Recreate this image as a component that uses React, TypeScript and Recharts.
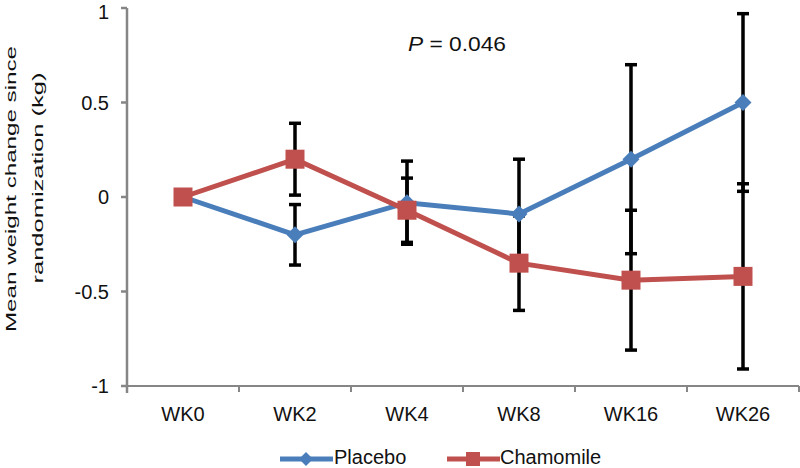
import { LineChart, Line, XAxis, YAxis, ErrorBar, Legend } from "recharts"

// values (kg change since randomization)
const weeks = ["WK0", "WK2", "WK4", "WK8", "WK16", "WK26"]
const placebo = [0, -0.2, -0.03, -0.09, 0.2, 0.5]
const placeboErr = [null, 0.16, 0.22, 0.29, 0.5, 0.47]
const chamomile = [0, 0.2, -0.07, -0.35, -0.44, -0.42]
const chamomileErr = [null, 0.19, 0.17, 0.25, 0.37, 0.49]
const yTicks = [-1, -0.5, 0, 0.5, 1]

const data = weeks.map((week, i) => ({
  week,
  placebo: placebo[i],
  placeboErr: placeboErr[i],
  chamomile: chamomile[i],
  chamomileErr: chamomileErr[i],
}))

const BLUE = "#4A7EBB"
const RED = "#C0504D"
const AXIS = "#868686"
const FONT = "'Liberation Sans', Arial, sans-serif"

const Diamond = (props: any) => {
  const { cx, cy, key } = props
  if (cx == null || cy == null) return null
  const r = 8.5
  return <polygon key={key} points={`${cx},${cy - r} ${cx + r},${cy} ${cx},${cy + r} ${cx - r},${cy}`} fill={BLUE} />
}

const Square = (props: any) => {
  const { cx, cy, key } = props
  if (cx == null || cy == null) return null
  const s = 19
  return <rect key={key} x={cx - s / 2} y={cy - s / 2} width={s} height={s} fill={RED} />
}

const WeekTick = (props: any) => {
  const { x, y, payload, index } = props
  const half = payload.offset || 56
  const axisY = y - 8
  return (
    <g>
      {index === 0 && <line x1={x - half} y1={axisY} x2={x - half} y2={axisY + 7} stroke={AXIS} strokeWidth={2.5} />}
      <line x1={x + half} y1={axisY} x2={x + half} y2={axisY + 6} stroke={AXIS} strokeWidth={2} />
      <text x={x} y={axisY + 35} textAnchor="middle" fontSize={20} fill="#111">
        {payload.value}
      </text>
    </g>
  )
}

const legendText = { position: "absolute" as const, top: 2, lineHeight: "20px", fontSize: 20, color: "#111" }

const LegendContent = () => (
  <div style={{ position: "relative", height: 28, width: 800, fontFamily: FONT }}>
    <svg width={53} height={20} style={{ position: "absolute", left: 280, top: 4 }}>
      <line x1={0} y1={10} x2={53} y2={10} stroke={BLUE} strokeWidth={5} />
      <polygon points="26,3 33,10 26,17 19,10" fill={BLUE} />
    </svg>
    <span style={{ ...legendText, left: 334 }}>Placebo</span>
    <svg width={53} height={20} style={{ position: "absolute", left: 447, top: 4 }}>
      <line x1={0} y1={10} x2={53} y2={10} stroke={RED} strokeWidth={5} />
      <rect x={19} y={3} width={14} height={14} fill={RED} />
    </svg>
    <span style={{ ...legendText, left: 500 }}>Chamomile</span>
  </div>
)

export default function App() {
  return (
    <div style={{ position: "absolute", left: 0, top: 0, width: 800, height: 468, background: "#fff" }}>
      <LineChart width={800} height={468} data={data} margin={{ top: 8, right: 1, left: 0, bottom: 14 }} style={{ fontFamily: FONT }}>
        <XAxis
          dataKey="week"
          scale="band"
          height={40}
          stroke={AXIS}
          strokeWidth={2}
          tickLine={false}
          tickSize={6}
          tickMargin={2}
          tick={<WeekTick />}
          interval={0}
        />
        <YAxis
          width={127}
          domain={[-1, 1]}
          ticks={yTicks}
          stroke={AXIS}
          strokeWidth={2.5}
          tickSize={6}
          tickMargin={12}
          tick={{ fill: "#111", fontSize: 20 }}
        />
        <Line dataKey="placebo" name="Placebo" stroke={BLUE} strokeWidth={5} dot={Diamond} activeDot={false} isAnimationActive={false}>
          <ErrorBar dataKey="placeboErr" direction="y" width={6} strokeWidth={3.5} stroke="#000" />
        </Line>
        <Line dataKey="chamomile" name="Chamomile" stroke={RED} strokeWidth={5} dot={Square} activeDot={false} isAnimationActive={false}>
          <ErrorBar dataKey="chamomileErr" direction="y" width={6} strokeWidth={3.5} stroke="#000" />
        </Line>
        <Legend verticalAlign="bottom" content={<LegendContent />} wrapperStyle={{ top: 445, left: 0, width: 800, height: 28 }} />
        <text x={408} y={51} fontSize={21} fill="#111" fontFamily={FONT} textLength={98} lengthAdjust="spacingAndGlyphs">
          <tspan fontStyle="italic">P</tspan> = 0.046
        </text>
        <text x={16} y={189} transform="rotate(-90 16 189)" textAnchor="middle" fontSize={15} fill="#111" fontFamily={FONT} textLength={286} lengthAdjust="spacingAndGlyphs">
          Mean weight change since
        </text>
        <text x={43} y={178} transform="rotate(-90 43 178)" textAnchor="middle" fontSize={15} fill="#111" fontFamily={FONT} textLength={211} lengthAdjust="spacingAndGlyphs">
          randomization (kg)
        </text>
      </LineChart>
    </div>
  )
}
